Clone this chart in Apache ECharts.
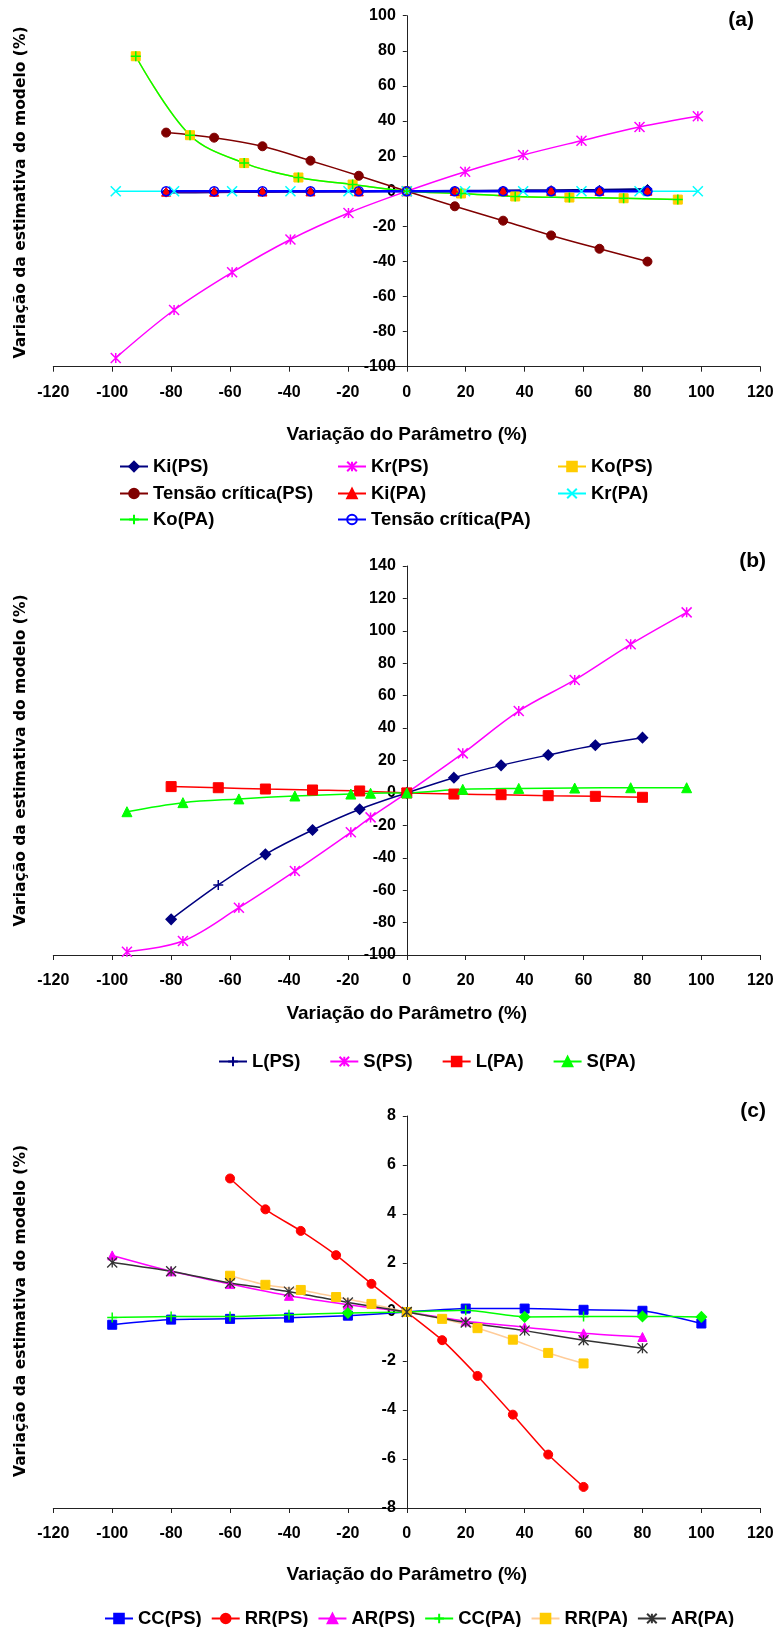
<!DOCTYPE html>
<html><head><meta charset="utf-8">
<script src="https://cdn.jsdelivr.net/npm/echarts@6/dist/echarts.min.js"></script>
<style>html,body{margin:0;padding:0;background:#fff}#c{width:777px;height:1627px}</style>
</head><body><div id="c"></div>
<script>
// ---------- axis ranges (min, max, interval) ----------
const xRange = [-120, 120, 20];
const yRangeA = [-100, 100, 20];
const yRangeB = [-100, 140, 20];
const yRangeC = [-8, 8, 2];

// ---------- chart (a) ----------
const xA_KiT = [-81.7, -65.4, -49, -32.7, -16.3, 0, 16.3, 32.7, 49, 65.4, 81.7];
const xA_Kr  = [-98.8, -79, -59.3, -39.5, -19.8, 0, 19.8, 39.5, 59.3, 79, 98.8];
const xA_Ko  = [-92, -73.6, -55.2, -36.8, -18.4, 0, 18.4, 36.8, 55.2, 73.6, 92];
const a_KiPS = [-0.8, -0.6, -0.4, -0.3, -0.1, 0, 0.2, 0.4, 0.6, 0.8, 1.3];
const a_KrPS = [-95, -67.7, -46.2, -27.5, -12.4, 0, 11.1, 20.6, 28.8, 36.6, 42.7];
const a_KoPS = [76.9, 31.9, 16, 7.8, 3.8, 0, -1.3, -3.0, -3.6, -4.0, -4.8];
const a_TcPS = [33.4, 30.5, 25.6, 17.4, 8.8, 0, -8.6, -16.8, -25.2, -32.8, -40.1];
const a_KiPA = [-0.3, -0.3, -0.2, -0.1, -0.1, 0, 0.1, 0.1, 0.2, 0.2, 0.3];
const a_KrPA = [0, 0, 0, 0, 0, 0, 0, 0, 0, 0, 0];
const a_KoPA = [76.9, 31.9, 16, 7.8, 3.8, 0, -1.3, -3.0, -3.6, -4.0, -4.8];
const a_TcPA = [0, 0, 0, 0, 0, 0, 0, 0, 0, 0, 0];

// ---------- chart (b) ----------
const xB_L = [-80, -64, -48, -32, -16, 0, 16, 32, 48, 64, 80];
const xB_S = [-95, -76, -57, -38, -19, -12.3, 0, 19, 38, 57, 76, 95];
const b_LPS = [-78, -56.8, -37.9, -22.9, -10.1, 0, 9.4, 17, 23.4, 29.4, 34.1];
const b_SPS = [-98, -91.4, -70.8, -48.2, -24.3, -15.1, 0, 24.4, 50.5, 69.7, 91.7, 111.4];
const b_LPA = [3.9, 3.2, 2.4, 1.8, 1.2, 0, -0.7, -1.1, -1.7, -2.1, -2.7];
const b_SPA = [-11.6, -6, -3.7, -1.9, -0.7, -0.2, 0, 2.2, 2.8, 3, 3.2, 3.2];

// ---------- chart (c) ----------
const xC_CC = [-100, -80, -60, -40, -20, 0, 20, 40, 60, 80, 100];
const xC_RR = [-60, -48, -36, -24, -12, 0, 12, 24, 36, 48, 60];
const xC_AR = [-100, -80, -60, -40, -20, 0, 20, 40, 60, 80];
const c_CCPS = [-0.52, -0.31, -0.28, -0.23, -0.15, 0, 0.14, 0.14, 0.09, 0.05, -0.47];
const c_RRPS = [5.45, 4.19, 3.31, 2.32, 1.15, 0, -1.15, -2.61, -4.19, -5.82, -7.14];
const c_ARPS = [2.31, 1.66, 1.14, 0.66, 0.3, 0, -0.38, -0.62, -0.87, -1.02];
const c_CCPA = [-0.22, -0.18, -0.18, -0.11, -0.04, 0, 0.07, -0.2, -0.18, -0.18, -0.2];
const c_RRPA = [1.48, 1.11, 0.9, 0.61, 0.33, 0, -0.28, -0.66, -1.13, -1.67, -2.1];
const c_ARPA = [2.02, 1.66, 1.18, 0.83, 0.39, 0, -0.43, -0.76, -1.15, -1.48];

// ---------- texts ----------
const xTitle = 'Variação do Parâmetro (%)';
const yTitle = 'Variação da estimativa do modelo (%)';
const panelLabels = ['(a)', '(b)', '(c)'];

// ---------- styling ----------
const FONT = '"Liberation Sans", Arial, sans-serif';
const SYM_AST = 'path://M0,0L10,10M10,0L0,10M5,0L5,10';
const SYM_X = 'path://M0,0L10,10M10,0L0,10';
const SYM_PLUS = 'path://M5,0L5,10M0,5L10,5';

const GL = 53.3, GR = 16.7, W = 777;
const grids = [
  {left: GL, right: GR, top: 15.7, height: 351},
  {left: GL, right: GR, top: 566, height: 389},
  {left: GL, right: GR, top: 1116, height: 392}
];
const plotW = W - GL - GR;
const yOffset = -((0 - xRange[0]) / (xRange[1] - xRange[0])) * plotW; // place y axis at x = 0
const nameGaps = [58.5, 49.5, 57];
const yRanges = [yRangeA, yRangeB, yRangeC];

function zip(xs, ys) { return xs.map((x, i) => [x, ys[i]]); }
function line(name, g, xs, ys, o) {
  return {
    type: 'line', name, xAxisIndex: g, yAxisIndex: g,
    data: o.perItem ? xs.map((x, i) => Object.assign({value: [x, ys[i]]}, o.perItem[i] ? {symbol: o.perItem[i]} : {})) : zip(xs, ys),
    smooth: o.smooth == null ? 0.35 : o.smooth,
    symbol: o.symbol, symbolSize: o.size || 9,
    itemStyle: {color: o.fill, borderColor: o.stroke || o.fill, borderWidth: o.bw == null ? 1 : o.bw},
    lineStyle: {color: o.line, width: o.lw || 1.5},
    emphasis: {disabled: true}, animation: false, z: 2
  };
}

const xAxes = grids.map((g, i) => ({
  type: 'value', gridIndex: i, min: xRange[0], max: xRange[1], interval: xRange[2],
  splitLine: {show: false},
  axisLine: {onZero: false, lineStyle: {color: '#222', width: 1}},
  axisTick: {show: true, length: 5, lineStyle: {color: '#222'}},
  axisLabel: {color: '#000', fontFamily: FONT, fontWeight: 'bold', fontSize: 16, margin: 17.5},
  name: xTitle, nameLocation: 'middle', nameGap: nameGaps[i],
  nameTextStyle: {color: '#000', fontFamily: FONT, fontWeight: 'bold', fontSize: 19}
}));
const yAxes = grids.map((g, i) => ({
  type: 'value', gridIndex: i, min: yRanges[i][0], max: yRanges[i][1], interval: yRanges[i][2],
  position: 'left', offset: yOffset,
  splitLine: {show: false},
  axisLine: {onZero: false, lineStyle: {color: '#222', width: 1}},
  axisTick: {show: true, length: 4, lineStyle: {color: '#222'}},
  axisLabel: {color: '#000', fontFamily: FONT, fontWeight: 'bold', fontSize: 16, margin: 11}
}));

const series = [
  // (a)
  line('Ki(PS)', 0, xA_KiT, a_KiPS, {symbol: 'diamond', fill: '#000080', line: '#000080', lw: 2, size: 9}),
  line('Kr(PS)', 0, xA_Kr, a_KrPS, {symbol: SYM_AST, fill: '#ff00ff', bw: 1.5, line: '#ff00ff', size: 10}),
  line('Ko(PS)', 0, xA_Ko, a_KoPS, {symbol: 'rect', fill: '#ffcc00', line: '#ffcc00', size: 9}),
  line('Tensão crítica(PS)', 0, xA_KiT, a_TcPS, {symbol: 'circle', fill: '#800000', line: '#800000', size: 9}),
  line('Ki(PA)', 0, xA_KiT, a_KiPA, {symbol: 'triangle', fill: '#ff0000', line: '#ff0000', size: 9}),
  line('Kr(PA)', 0, xA_Kr, a_KrPA, {symbol: SYM_X, fill: '#00ffff', bw: 1.5, line: '#00ffff', size: 10}),
  line('Ko(PA)', 0, xA_Ko, a_KoPA, {symbol: SYM_PLUS, fill: '#00ff00', bw: 1.5, line: '#00ff00', size: 10}),
  line('Tensão crítica(PA)', 0, xA_KiT, a_TcPA, {symbol: 'circle', fill: 'rgba(255,255,255,0)', stroke: '#0000ff', bw: 1.5, line: '#0000ff', lw: 2.5, size: 9}),
  // (b)
  line('L(PS)', 1, xB_L, b_LPS, {symbol: SYM_PLUS, fill: '#000080', bw: 1.5, line: '#000080', size: 10,
    perItem: ['diamond', SYM_PLUS, 'diamond', 'diamond', 'diamond', 'diamond', 'diamond', 'diamond', 'diamond', 'diamond', 'diamond']}),
  line('S(PS)', 1, xB_S, b_SPS, {symbol: SYM_AST, fill: '#ff00ff', bw: 1.5, line: '#ff00ff', size: 10}),
  line('L(PA)', 1, xB_L, b_LPA, {symbol: 'rect', fill: '#ff0000', line: '#ff0000', size: 10}),
  line('S(PA)', 1, xB_S, b_SPA, {symbol: 'triangle', fill: '#00ff00', line: '#00ff00', size: 10}),
  // (c)
  line('CC(PS)', 2, xC_CC, c_CCPS, {symbol: 'rect', fill: '#0000ff', line: '#0000ff', size: 9, smooth: 0.2}),
  line('RR(PS)', 2, xC_RR, c_RRPS, {symbol: 'circle', fill: '#ff0000', line: '#ff0000', size: 9, smooth: 0.2}),
  line('AR(PS)', 2, xC_AR, c_ARPS, {symbol: 'triangle', fill: '#ff00ff', line: '#ff00ff', size: 9, smooth: 0.2}),
  line('CC(PA)', 2, xC_CC, c_CCPA, {symbol: SYM_PLUS, fill: '#00ff00', bw: 1.5, line: '#00ff00', size: 10, smooth: 0.2,
    perItem: [null, null, null, null, 'diamond', null, null, 'diamond', null, 'diamond', 'diamond']}),
  line('RR(PA)', 2, xC_RR, c_RRPA, {symbol: 'rect', fill: '#ffcc00', line: '#ffcc99', size: 9, smooth: 0.2}),
  line('AR(PA)', 2, xC_AR, c_ARPA, {symbol: SYM_AST, fill: '#333333', bw: 1.3, line: '#333333', size: 10, smooth: 0.2})
];

const legText = {color: '#000', fontFamily: FONT, fontWeight: 'bold', fontSize: 18.5};
function leg(names, left, top, gap) {
  return {data: names, left, top, orient: 'horizontal', itemGap: gap || 10, itemWidth: 28, itemHeight: 12,
    padding: 0, selectedMode: false, textStyle: legText};
}
const legends = [
  leg(['Ki(PS)'], 119, 457), leg(['Kr(PS)'], 337, 457), leg(['Ko(PS)'], 557, 457),
  leg(['Tensão crítica(PS)'], 119, 484), leg(['Ki(PA)'], 337, 484), leg(['Kr(PA)'], 557, 484),
  leg(['Ko(PA)'], 119, 510), leg(['Tensão crítica(PA)'], 337, 510),
  leg(['L(PS)', 'S(PS)', 'L(PA)', 'S(PA)'], 218, 1052, 29),
  leg(['CC(PS)', 'RR(PS)', 'AR(PS)', 'CC(PA)', 'RR(PA)', 'AR(PA)'], 104, 1609, 9)
];

const yTitleY = [192.5, 760.5, 1311];
const panelPos = [[754, 20], [766, 561], [766, 1111]];
const graphics = [];
yTitleY.forEach(y => graphics.push({type: 'text', x: 21, y: y, rotation: Math.PI / 2,
  style: {text: yTitle, font: 'bold 15.5px "DejaVu Sans", Verdana, sans-serif', fill: '#000', align: 'center', verticalAlign: 'middle'}}));
panelPos.forEach((p, i) => graphics.push({type: 'text', x: p[0], y: p[1],
  style: {text: panelLabels[i], font: 'bold 21px "Liberation Sans", Arial, sans-serif', fill: '#000', align: 'right', verticalAlign: 'middle'}}));

const chart = echarts.init(document.getElementById('c'), null, {renderer: 'canvas'});
chart.setOption({
  backgroundColor: '#fff', animation: false,
  grid: grids, xAxis: xAxes, yAxis: yAxes, series: series, legend: legends, graphic: graphics
});
</script></body></html>
